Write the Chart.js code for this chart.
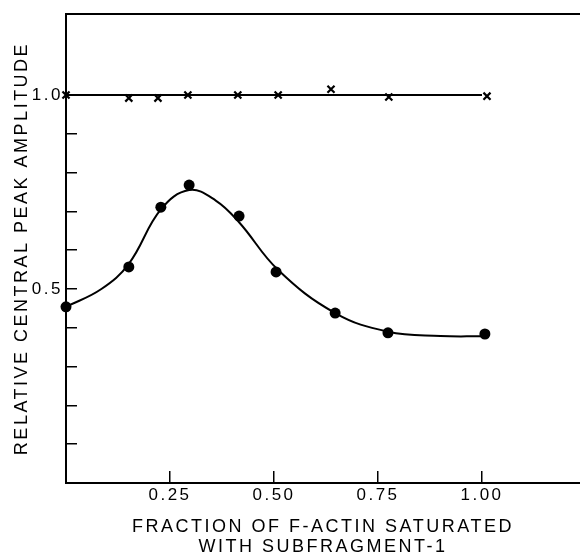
<!DOCTYPE html>
<html>
<head>
<meta charset="utf-8">
<script src="https://cdn.jsdelivr.net/npm/chart.js@4.4.1/dist/chart.umd.min.js"></script>
<style>
  html, body { margin: 0; padding: 0; background: #fff; }
  #wrap { width: 580px; height: 557px; }
</style>
</head>
<body>
<div id="wrap"><canvas id="peakChart"></canvas></div>
<script>
// values
const crossX = [0, 0.151, 0.221, 0.293, 0.413, 0.51, 0.637, 0.776, 1.012];
const crossY = [1.0, 0.992, 0.992, 1.0, 1.0, 1.0, 1.015, 0.995, 0.997];

const dotX = [0, 0.151, 0.228, 0.296, 0.416, 0.505, 0.647, 0.774, 1.007];
const dotY = [0.454, 0.557, 0.711, 0.768, 0.688, 0.544, 0.438, 0.387, 0.384];

// hand drawn smooth curve through the dots
const curveX = [0, 0.085, 0.151, 0.228, 0.296, 0.36, 0.416, 0.51, 0.647, 0.774, 0.9, 1.0];
const curveY = [0.454, 0.5, 0.565, 0.705, 0.755, 0.728, 0.672, 0.549, 0.438, 0.39, 0.379, 0.378];

// reference level
const levelX = [0, 1.0];
const levelY = [1.0, 1.0];

const xTickLabels = { 0.25: '0.25', 0.5: '0.50', 0.75: '0.75', 1: '1.00' };
const yTickLabels = { 0.5: '0.5', 1: '1.0' };

const xMax = 1.2356;
const yMax = 1.2088;
const fontFamily = "'Liberation Sans', Arial, Helvetica, sans-serif";

const toPoints = (xs, ys) => xs.map((x, i) => ({ x: x, y: ys[i] }));
const findLabel = (table, v) => {
  for (const k in table) {
    if (Math.abs(Number(k) - v) < 1e-6) return table[k];
  }
  return '';
};

// spaced out lettering like the original typesetting
const letterSpacing = {
  id: 'letterSpacing',
  beforeLayout(chart) { chart.ctx.letterSpacing = '2.5px'; },
  beforeDraw(chart) { chart.ctx.letterSpacing = '2.5px'; }
};

const config = {
  type: 'scatter',
  data: {
    datasets: [
      {
        data: toPoints(levelX, levelY),
        showLine: true,
        borderColor: '#000',
        borderWidth: 2,
        pointRadius: 0
      },
      {
        data: toPoints(curveX, curveY),
        showLine: true,
        borderColor: '#000',
        borderWidth: 2,
        pointRadius: 0,
        tension: 0.4
      },
      {
        data: toPoints(crossX, crossY),
        pointStyle: 'crossRot',
        pointRadius: 5,
        borderColor: '#000',
        pointBorderWidth: 2.2,
        clip: false
      },
      {
        data: toPoints(dotX, dotY),
        pointStyle: 'circle',
        pointRadius: 5.5,
        backgroundColor: '#000',
        borderColor: '#000',
        pointBorderWidth: 0,
        clip: false
      }
    ]
  },
  options: {
    responsive: true,
    maintainAspectRatio: false,
    animation: false,
    layout: { padding: 0, autoPadding: false },
    plugins: {
      legend: { display: false },
      tooltip: { enabled: false }
    },
    scales: {
      x: {
        type: 'linear',
        position: 'bottom',
        min: 0,
        max: xMax,
        afterFit(scale) { scale.height = 74; scale.paddingLeft = 0; scale.paddingRight = 0; },
        border: { display: true, color: '#000', width: 2 },
        grid: {
          drawOnChartArea: false,
          drawTicks: true,
          tickLength: -12,
          lineWidth: 1.5,
          color: ctx => (ctx.tick && ctx.tick.value > 0.1 && ctx.tick.value < 1.05) ? '#000' : 'rgba(0,0,0,0)'
        },
        ticks: {
          stepSize: 0.25,
          padding: 14,
          color: '#000',
          maxRotation: 0,
          autoSkip: false,
          font: { family: fontFamily, size: 17 },
          callback: v => findLabel(xTickLabels, v)
        },
        title: {
          display: true,
          text: ['FRACTION OF F-ACTIN SATURATED', 'WITH SUBFRAGMENT-1'],
          color: '#000',
          padding: { top: 0, bottom: 0 },
          font: { family: fontFamily, size: 18, lineHeight: 20 / 18 }
        }
      },
      xTop: {
        type: 'linear',
        position: 'top',
        min: 0,
        max: xMax,
        afterFit(scale) { scale.height = 14; scale.paddingLeft = 0; scale.paddingRight = 0; },
        border: { display: true, color: '#000', width: 2 },
        grid: { drawOnChartArea: false, drawTicks: false },
        ticks: { display: false }
      },
      y: {
        type: 'linear',
        position: 'left',
        min: 0,
        max: yMax,
        afterFit(scale) { scale.width = 66; scale.paddingTop = 0; scale.paddingBottom = 0; },
        border: { display: true, color: '#000', width: 2 },
        grid: {
          drawOnChartArea: false,
          drawTicks: true,
          tickLength: -11,
          lineWidth: 1.5,
          color: ctx => (ctx.tick && ctx.tick.value > 0.05 && ctx.tick.value < 1.05) ? '#000' : 'rgba(0,0,0,0)'
        },
        ticks: {
          stepSize: 0.1,
          padding: 14,
          color: '#000',
          autoSkip: false,
          font: { family: fontFamily, size: 17 },
          callback: v => findLabel(yTickLabels, v)
        },
        title: {
          display: true,
          text: 'RELATIVE CENTRAL PEAK AMPLITUDE',
          color: '#000',
          padding: { top: 12, bottom: 0 },
          font: { family: fontFamily, size: 18, lineHeight: 20 / 18 }
        }
      }
    }
  },
  plugins: [letterSpacing]
};

const peakChart = new Chart(document.getElementById('peakChart'), config);
</script>
</body>
</html>
